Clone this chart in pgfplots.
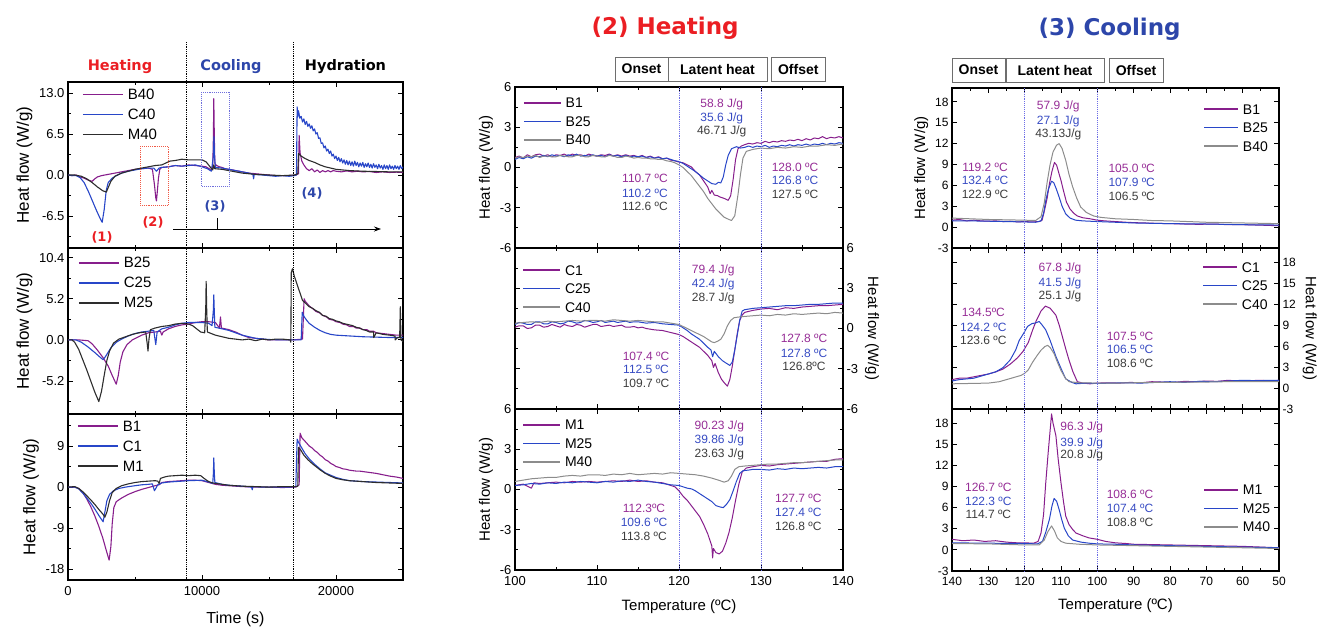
\documentclass[border=0pt]{standalone}
\usepackage{pgfplots}
\pgfplotsset{compat=1.18}
\usepackage{fontspec}
\setmainfont{Liberation Sans}
\newfontfamily\vfont{DejaVu Sans}
\usetikzlibrary{arrows.meta}
\definecolor{cpur}{RGB}{135,30,140}
\definecolor{cblu}{RGB}{40,70,200}
\definecolor{cdrk}{RGB}{45,45,45}
\definecolor{cgry}{RGB}{140,140,140}
\definecolor{tpur}{RGB}{150,45,150}
\definecolor{tblu}{RGB}{55,75,195}
\definecolor{tdrk}{RGB}{60,60,60}
\definecolor{tred}{RGB}{235,30,35}
\definecolor{tnavy}{RGB}{45,70,170}
\definecolor{dotblue}{RGB}{110,110,230}
\pgfplotsset{
  base/.style={scale only axis, axis line style={line width=1.2pt}, tick style={line width=0.9pt, black},
    major tick length=5pt, minor tick length=3pt, tick align=inside,
    every axis plot/.append style={line width=1.1pt, line join=round},
    legend cell align=left, scaled ticks=false,
    xticklabel style={yshift=-3pt},
    legend style={draw=none, fill=none, inner sep=0pt, outer sep=0pt, anchor=north west,
      nodes={inner sep=0pt, text height=10pt, text depth=0pt},
      /tikz/every odd column/.append style={column sep=4pt}}},
  lp/.style={base, width=335pt, height=166pt, xmin=0, xmax=25000, xtick={0,10000,20000}, minor xtick={5000,15000},
    tick label style={font=\fontsize{13}{14}\selectfont}, ylabel={Heat flow (W/g)},
    ylabel style={font=\fontsize{17}{18}\selectfont},
    legend style={font=\fontsize{15}{16}\selectfont, row sep=10pt}},
  hp/.style={base, width=328pt, height=161pt, xmin=100, xmax=140, ymin=-6, ymax=6, xtick={100,110,120,130,140},
    minor xtick={105,115,125,135}, ytick={-6,-3,0,3,6}, yticklabels={-6,-3,0,3,6}, minor ytick={-4.5,-1.5,1.5,4.5},
    tick label style={font=\fontsize{13}{14}\selectfont},
    every axis plot/.append style={line width=1pt},
    ylabel style={font=\fontsize{15}{16}\selectfont},
    legend style={font=\fontsize{14}{15}\selectfont, row sep=8.5pt}},
  cp/.style={base, width=327pt, xmin=50, xmax=140, x dir=reverse, ymin=-3, ymax=20, xtick={50,60,...,140},
    minor xtick={55,65,...,135}, ytick={-3,0,3,6,9,12,15,18}, yticklabels={-3,0,3,6,9,12,15,18},
    tick label style={font=\fontsize{12}{13}\selectfont},
    every axis plot/.append style={line width=1pt},
    ylabel style={font=\fontsize{15}{16}\selectfont},
    legend style={font=\fontsize{14}{15}\selectfont, row sep=8.5pt}},
}
\begin{document}
\begin{tikzpicture}
%================ LEFT PANEL =================
\begin{axis}[lp, at={(68pt,-82pt)}, anchor=north west, ymin=-11.57, ymax=14.74, xticklabels={},
  ytick={-6.5,0,6.5,13}, yticklabels={-6.5,0.0,6.5,13.0}, minor ytick={-9.75,-3.25,3.25,9.75},
  legend style={at={(axis description cs:0.042,0.955)}},
  legend image code/.code={\draw[#1,line width=1.8pt] (0pt,0pt)--(40pt,0pt);}]
\addplot[cpur] coordinates {(0,0)(300,-0.1)(600,0)(900,-0.3)(1200,-0.5)(1500,-0.8)(1800,-1.0)(2000,-0.6)(2200,-0.3)(2500,-0.1)(3000,0.1)(3500,0.3)(4000,0.5)(4500,0.7)(5000,0.9)(5500,1.0)(6000,1.1)(6300,0.9)(6450,-1.5)(6550,-3.6)(6600,-4.1)(6650,-3.0)(6750,-0.5)(6850,0.9)(7000,1.2)(7500,1.3)(8000,1.5)(8500,1.4)(9000,1.6)(9500,1.5)(10000,1.4)(10300,1.3)(10600,0.9)(10800,1.0)(10850,6)(10880,12.1)(10920,6)(10960,1.8)(11100,1.5)(11300,1.3)(11500,1.2)(11700,1.0)(12000,0.9)(12300,0.8)(12500,0.7)(12800,0.6)(13000,0.5)(13500,0.3)(14000,0.2)(14500,0.1)(15000,0)(15500,-0.1)(16000,-0.1)(16500,-0.1)(17000,0)(17200,0.2)(17250,6.3)(17320,3.5)(17450,2.2)(17600,1.6)(17800,1.0)(18000,0.7)(18200,1.0)(18400,0.5)(18600,0.8)(18800,0.4)(19000,0.7)(19200,0.5)(19400,0.7)(19600,0.5)(19800,0.7)(20000,0.6)(20400,0.5)(20800,0.65)(21200,0.5)(21600,0.6)(22000,0.5)(22500,0.55)(23000,0.4)(23500,0.5)(24000,0.4)(24500,0.45)(25000,0.4)};
\addlegendentry{B40}
\addplot[cblu] coordinates {(0,0)(300,-0.1)(600,-0.1)(900,-0.4)(1200,-1.2)(1500,-2.5)(1800,-4.0)(2100,-5.5)(2400,-6.9)(2550,-7.5)(2700,-5.5)(2850,-2.5)(3000,-1.2)(3300,-0.5)(3600,-0.1)(4000,0.3)(4500,0.6)(5000,0.8)(5500,1.0)(6000,1.1)(6400,1.1)(6600,0.6)(6800,1.1)(7000,1.2)(7500,1.3)(8000,1.5)(8500,1.4)(9000,1.5)(9500,1.6)(10000,1.3)(10400,1.0)(10700,0.6)(10850,3)(10890,6.1)(10930,3)(11000,1.2)(11500,1.1)(12000,0.9)(12500,0.7)(13000,0.5)(13500,0.3)(13800,0.1)(13850,-0.6)(13900,0.1)(14500,0.0)(15000,-0.1)(15500,-0.2)(16000,-0.1)(16500,-0.2)(16900,-0.1)(17050,0.0)(17100,10.8)(17150,9.2)(17200,10.2)(17300,9.0)(17400,9.3)(17500,8.4)(17600,8.9)(17700,8.0)(17800,8.5)(17900,7.7)(18000,8.1)(18100,7.4)(18200,7.8)(18300,7.0)(18400,7.3)(18500,6.5)(18600,6.7)(18700,5.8)(18800,5.9)(18900,5.0)(19000,5.1)(19100,4.3)(19200,4.6)(19300,3.8)(19400,4.1)(19500,3.4)(19600,3.8)(19700,3.0)(19800,3.3)(19900,2.6)(20000,3.0)(20100,2.3)(20200,2.8)(20300,2.1)(20400,2.6)(20500,1.9)(20600,2.4)(20700,1.7)(20800,2.3)(20900,1.6)(21000,2.2)(21100,1.5)(21200,2.1)(21300,1.4)(21400,2.2)(21500,1.5)(21600,2.0)(21700,1.3)(21800,1.9)(21900,1.4)(22000,2.0)(22100,1.2)(22200,1.8)(22300,1.3)(22400,1.9)(22500,1.2)(22600,1.7)(22700,1.1)(22800,1.8)(22900,1.2)(23000,1.6)(23100,1.0)(23200,1.7)(23300,1.1)(23400,1.5)(23500,0.9)(23600,1.6)(23700,1.0)(23800,1.5)(23900,0.9)(24000,1.6)(24100,1.0)(24200,1.4)(24300,0.9)(24400,1.5)(24500,1.0)(24600,1.4)(24700,0.9)(24800,1.5)(24900,1.0)(25000,1.3)};
\addlegendentry{C40}
\addplot[cdrk] coordinates {(0,0)(500,0)(1000,-0.2)(1400,-0.6)(1800,-1.2)(2200,-1.9)(2600,-2.5)(2860,-2.7)(3000,-2.0)(3200,-1.0)(3500,-0.2)(4000,0.3)(4500,0.6)(5000,0.9)(5500,1.1)(6000,1.3)(6500,1.5)(7000,1.6)(7300,1.9)(7600,2.2)(8000,2.3)(8500,2.5)(9000,2.4)(9500,2.4)(10000,2.4)(10300,2.1)(10600,1.3)(10800,0.8)(10880,1.6)(10950,1.0)(11500,0.9)(12000,0.7)(12500,0.5)(13000,0.3)(14000,0.1)(15000,0.0)(16000,-0.1)(16900,0)(17150,0.2)(17200,3.4)(17400,3.0)(17700,2.6)(18000,2.3)(18400,2.0)(18800,1.6)(19200,1.3)(19600,1.1)(20000,0.9)(21000,0.7)(22000,0.6)(23000,0.55)(24000,0.5)(25000,0.5)};
\addlegendentry{M40}
\end{axis}
\begin{axis}[lp, at={(68pt,-248pt)}, anchor=north west, ymin=-9.37, ymax=11.62, xticklabels={},
  ytick={-5.2,0,5.2,10.4}, yticklabels={-5.2,0.0,5.2,10.4}, minor ytick={-7.8,-2.6,2.6,7.8},
  legend style={at={(axis description cs:0.03,0.941)}},
  legend image code/.code={\draw[#1,line width=1.8pt] (0pt,0pt)--(40pt,0pt);}]
\addplot[cpur] coordinates {(0,0)(800,0)(1500,-0.1)(1800,-0.5)(2200,-1.3)(2600,-2.2)(3000,-3.3)(3300,-4.5)(3600,-5.6)(3750,-4.5)(3900,-2.8)(4100,-1.5)(4400,-0.6)(4800,0)(5500,0.6)(6000,0.9)(6500,1.0)(6900,1.1)(7000,0.6)(7100,1.0)(7500,1.4)(8000,1.7)(8500,1.9)(9000,2.0)(9500,2.2)(10000,2.3)(10500,2.3)(11000,2.2)(11300,1.5)(11380,2.9)(11450,1.5)(12000,1.3)(12500,1.0)(13000,0.6)(13500,0.3)(14000,0.2)(15000,0.0)(16000,0.0)(16800,0.0)(17500,0.1)(17620,5.2)(17700,4.9)(18000,4.3)(18300,3.9)(18500,3.6)(18800,3.4)(19000,3.1)(19300,2.9)(19500,2.6)(19800,2.5)(20000,2.3)(20300,2.2)(20500,2.0)(20800,1.9)(21000,1.7)(21300,1.7)(21500,1.5)(21800,1.5)(22000,1.3)(22300,1.3)(22500,1.1)(22800,1.1)(23000,0.9)(23500,0.8)(24000,0.7)(24500,0.6)(25000,0.6)};
\addlegendentry{B25}
\addplot[cblu] coordinates {(0,0)(600,0)(1000,-0.3)(1500,-0.9)(2000,-1.6)(2400,-2.2)(2620,-2.5)(2800,-2.1)(3200,-1.0)(3600,-0.3)(4000,0.1)(4500,0.5)(5000,0.8)(5500,1.0)(6000,1.1)(6400,1.2)(6550,-0.6)(6650,1.0)(7000,1.4)(7500,1.6)(8000,1.9)(8500,2.1)(9000,2.2)(9500,2.2)(10000,2.2)(10500,2.1)(10750,1.8)(10850,3.8)(10880,5.7)(10920,3.5)(10960,1.6)(11500,1.4)(12000,1.2)(12500,0.9)(13000,0.6)(13500,0.4)(14000,0.2)(15000,0.05)(16000,0.0)(17000,0.0)(17400,0.0)(17480,3.5)(17600,3.0)(17800,2.5)(18000,2.1)(18400,1.6)(18800,1.2)(19200,0.9)(19600,0.7)(20000,0.6)(21000,0.5)(22000,0.4)(23000,0.35)(24000,0.3)(25000,0.3)};
\addlegendentry{C25}
\addplot[cdrk] coordinates {(0,0)(300,0)(500,-0.3)(800,-1.2)(1100,-2.5)(1400,-3.8)(1700,-5.2)(2000,-6.6)(2300,-7.8)(2500,-6.5)(2700,-4.5)(2900,-2.6)(3100,-1.4)(3400,-0.4)(3800,0.1)(4300,0.4)(4800,0.7)(5300,0.9)(5800,1.0)(5920,-0.6)(5970,-1.4)(6050,0.2)(6150,1.3)(6500,1.5)(7000,1.7)(7500,1.8)(8000,2.0)(8500,2.1)(9000,2.0)(9300,1.8)(9600,1.4)(9900,1.0)(10200,0.9)(10280,4)(10310,7.4)(10350,4)(10400,1.0)(11000,0.6)(11500,0.4)(12000,0.2)(12500,0.1)(13000,0.0)(13500,0.1)(14000,-0.1)(14500,0.1)(15000,0)(15500,0.1)(16000,0.1)(16580,0.0)(16630,-0.3)(16660,8.5)(16750,9.0)(16900,8.0)(17100,7.0)(17300,6.0)(17500,5.0)(17750,4.6)(18000,4.2)(18250,4.0)(18500,3.7)(18750,3.5)(19000,3.1)(19250,3.0)(19500,2.7)(19750,2.6)(20000,2.4)(20250,2.3)(20500,2.1)(20750,2.0)(21000,1.9)(21250,1.8)(21500,1.6)(21750,1.5)(22000,1.3)(22250,1.2)(22500,1.0)(22800,1.0)(22820,0.3)(23000,0.9)(23500,0.7)(24000,0.6)(24400,0.5)(24420,0.0)(24600,0.3)(24750,0.3)(24800,4.2)(24850,0.0)(25000,-0.2)};
\addlegendentry{M25}
\end{axis}
\begin{axis}[lp, at={(68pt,-414pt)}, anchor=north west, ymin=-20.35, ymax=16.0,
  xticklabels={0,10000,20000}, xlabel={Time (s)}, xlabel style={font=\fontsize{16}{17}\selectfont, yshift=-9pt},
  ytick={-18,-9,0,9}, yticklabels={-18,-9,0,9}, minor ytick={-13.5,-4.5,4.5,13.5},
  legend style={at={(axis description cs:0.027,0.957)}},
  legend image code/.code={\draw[#1,line width=1.8pt] (0pt,0pt)--(40pt,0pt);}]
\addplot[cpur] coordinates {(0,0)(500,0)(800,-0.3)(1100,-1.2)(1400,-2.6)(1700,-4.3)(2000,-6.3)(2300,-8.6)(2600,-11.2)(2850,-13.8)(3070,-16.0)(3200,-13)(3300,-8)(3420,-4.5)(3600,-3.2)(4000,-2.4)(4500,-1.6)(5000,-1.0)(5500,-0.5)(6000,-0.1)(6500,0.3)(6800,0.5)(7000,1.0)(7500,1.2)(8000,1.3)(8500,1.4)(9000,1.5)(9500,1.5)(10000,1.4)(10500,1.0)(11000,0.6)(11500,0.4)(12000,0.3)(13000,0.1)(14000,0.0)(15000,0.0)(16000,-0.1)(17000,0)(17250,0.5)(17320,11.8)(17450,10.8)(17700,10.0)(18000,9.0)(18200,8.6)(18400,8.0)(18600,7.6)(18800,7.0)(19000,6.6)(19200,6.0)(19400,5.7)(19600,5.2)(19800,4.9)(20000,4.5)(20250,4.3)(20500,4.0)(20750,3.9)(21000,3.7)(21250,3.6)(21500,3.5)(21750,3.5)(22000,3.4)(22250,3.3)(22500,3.2)(22750,3.1)(23000,3.0)(23500,2.7)(24000,2.4)(24500,2.2)(25000,1.9)};
\addlegendentry{B1}
\addplot[cblu] coordinates {(0,0)(500,0)(800,-0.4)(1100,-1.3)(1400,-2.4)(1700,-3.5)(2000,-4.8)(2300,-6.2)(2620,-7.6)(2750,-5.5)(2900,-3.0)(3100,-1.6)(3400,-0.8)(3800,-0.3)(4300,0.0)(5000,0.3)(5500,0.5)(6000,0.6)(6300,0.7)(6450,-0.8)(6550,-0.3)(6700,0.5)(7000,0.9)(7500,1.1)(8000,1.2)(9000,1.4)(10000,1.5)(10500,1.1)(10800,0.8)(10850,3)(10880,6.4)(10920,3)(10960,1.0)(11500,0.6)(12000,0.4)(13000,0.2)(13700,0.0)(13750,-0.6)(13800,0.1)(14500,0.0)(15500,0.0)(16500,0.0)(17000,0.1)(17100,10.5)(17200,9.8)(17400,8.8)(17700,7.3)(18000,6.2)(18400,5.0)(18800,4.0)(19200,3.1)(19600,2.6)(20000,2.1)(20500,1.7)(21000,1.4)(21500,1.3)(22000,1.2)(23000,1.1)(24000,1.0)(25000,0.9)};
\addlegendentry{C1}
\addplot[cdrk] coordinates {(0,0)(500,0.1)(800,-0.3)(1100,-1.0)(1400,-1.9)(1700,-2.8)(2000,-3.8)(2300,-4.9)(2600,-5.9)(2750,-6.6)(2900,-5.5)(3100,-3.0)(3300,-1.2)(3600,-0.3)(4000,0.3)(4500,0.7)(5000,1.0)(5500,1.2)(6000,1.3)(6500,1.4)(6700,1.3)(6800,0.8)(6900,1.9)(7200,2.2)(7500,2.4)(8000,2.5)(8500,2.6)(9000,2.5)(9500,2.6)(9900,2.5)(10200,1.8)(10500,1.2)(10800,0.9)(11000,0.8)(11500,0.6)(12000,0.4)(13000,0.2)(14000,0.1)(15000,0.0)(16000,0.1)(17000,0.1)(17150,0.2)(17200,8.7)(17350,8.2)(17600,7.0)(17900,6.0)(18200,5.2)(18500,4.5)(18800,3.8)(19200,3.0)(19600,2.4)(20000,1.9)(20500,1.6)(21000,1.4)(21500,1.3)(22000,1.2)(23000,1.0)(24000,0.9)(25000,0.8)};
\addlegendentry{M1}
\end{axis}
%================ HEATING PANEL =================
\begin{axis}[hp, at={(515pt,-87pt)}, anchor=north west, xticklabels={}, ylabel={Heat flow (W/g)},
  legend style={at={(axis description cs:0.024,0.932)}},
  legend image code/.code={\draw[#1,line width=1.8pt] (0pt,0pt)--(37pt,0pt);}]
\addplot[cpur] coordinates {(100,0.75)(100.5,0.85)(101,0.7)(101.5,0.95)(102,0.8)(102.5,0.95)(103,1.0)(103.5,0.85)(104,0.95)(104.5,0.8)(105,0.95)(105.5,0.9)(106,1.0)(106.5,0.85)(107,1.0)(107.5,0.9)(108,0.95)(108.5,0.85)(109,1.0)(109.5,0.9)(110,0.85)(110.5,0.95)(111,0.9)(111.5,1.0)(112,0.85)(112.5,0.95)(113,0.85)(113.5,0.95)(114,0.85)(114.5,0.9)(115,0.8)(115.5,0.9)(116,0.75)(116.5,0.85)(117,0.7)(117.5,0.8)(118,0.65)(118.5,0.7)(119,0.55)(119.5,0.5)(120,0.4)(120.5,0.35)(121,0.2)(121.5,0.05)(122,-0.3)(122.5,-0.55)(123,-1.0)(123.5,-1.45)(123.8,-1.95)(124,-1.7)(124.3,-2.05)(124.7,-2.1)(125,-2.2)(125.5,-2.3)(126,-2.45)(126.3,-2.1)(126.6,-0.9)(126.9,0.6)(127.2,1.4)(127.6,1.6)(128,1.7)(128.5,1.8)(129,1.75)(129.5,1.85)(130,1.8)(130.5,1.95)(131,1.85)(131.5,1.95)(132,1.9)(132.5,2.0)(133,1.95)(133.5,2.05)(134,2.0)(134.5,2.1)(135,2.0)(135.5,2.15)(136,2.05)(136.5,2.2)(137,2.15)(137.5,2.3)(138,2.15)(138.5,2.25)(139,2.2)(139.5,2.3)(140,2.2)};
\addlegendentry{B1}
\addplot[cblu] coordinates {(100,0.6)(100.5,0.75)(101,0.65)(101.5,0.8)(102,0.7)(102.5,0.85)(103,0.8)(103.5,0.9)(104,0.8)(104.5,0.95)(105,0.85)(105.5,0.9)(106,0.8)(106.5,0.95)(107,0.85)(107.5,1.0)(108,0.85)(108.5,0.9)(109,0.85)(109.5,0.95)(110,0.85)(110.5,0.9)(111,0.8)(111.5,0.95)(112,0.85)(112.5,0.9)(113,0.8)(113.5,0.9)(114,0.8)(114.5,0.85)(115,0.8)(115.5,0.85)(116,0.75)(116.5,0.8)(117,0.7)(117.5,0.75)(118,0.65)(118.5,0.7)(119,0.6)(119.5,0.5)(120,0.45)(120.5,0.3)(121,0.1)(121.5,-0.1)(122,-0.3)(122.5,-0.55)(123,-0.8)(123.5,-1.0)(124,-1.2)(124.5,-1.25)(124.8,-1.1)(125.1,-1.15)(125.4,-0.7)(125.7,0.2)(126,0.9)(126.4,1.4)(127,1.55)(127.5,1.45)(128,1.5)(128.5,1.6)(129,1.5)(129.5,1.6)(130,1.55)(130.5,1.65)(131,1.5)(131.5,1.6)(132,1.55)(132.5,1.65)(133,1.6)(133.5,1.7)(134,1.6)(134.5,1.7)(135,1.65)(135.5,1.75)(136,1.65)(136.5,1.75)(137,1.7)(137.5,1.8)(138,1.7)(138.5,1.8)(139,1.75)(139.5,1.85)(140,1.8)};
\addlegendentry{B25}
\addplot[cgry] coordinates {(100,0.7)(100.5,0.8)(101,0.75)(101.5,0.85)(102,0.8)(102.5,0.9)(103,0.75)(103.5,0.85)(104,0.85)(104.5,0.8)(105,0.8)(105.5,0.9)(106,0.85)(106.5,0.8)(107,0.8)(107.5,0.9)(108,0.9)(108.5,0.8)(109,0.8)(109.5,0.9)(110,0.85)(110.5,0.8)(111,0.8)(111.5,0.9)(112,0.85)(112.5,0.75)(113,0.75)(113.5,0.85)(114,0.8)(114.5,0.7)(115,0.75)(115.5,0.7)(116,0.7)(116.5,0.65)(117,0.65)(117.5,0.6)(118,0.6)(118.5,0.5)(119,0.45)(119.5,0.35)(120,0.2)(120.5,0.0)(121,-0.3)(121.5,-0.6)(122,-1.0)(122.5,-1.4)(123,-1.8)(123.5,-2.3)(124,-2.7)(124.5,-3.1)(125,-3.4)(125.5,-3.7)(126,-3.85)(126.4,-3.95)(126.8,-3.6)(127.2,-2.0)(127.5,-0.5)(127.8,0.7)(128.2,1.2)(129,1.35)(130,1.45)(131,1.4)(132,1.5)(133,1.45)(134,1.55)(135,1.5)(136,1.6)(137,1.6)(138,1.7)(139,1.65)(140,1.75)};
\addlegendentry{B40}
\end{axis}
\begin{axis}[hp, at={(515pt,-248pt)}, anchor=north west, xticklabels={}, yticklabel pos=right,
  ylabel={Heat flow (W/g)}, ylabel style={rotate=180},
  legend style={at={(axis description cs:0.022,0.894)}},
  legend image code/.code={\draw[#1,line width=1.8pt] (0pt,0pt)--(37pt,0pt);}]
\addplot[cpur] coordinates {(100,0.1)(100.5,0.2)(101,0.2)(101.5,0.0)(102,0.05)(102.5,0.25)(103,0.25)(103.5,0.1)(104,0.15)(104.5,0.3)(105,0.2)(105.5,0.1)(106,0.3)(106.5,0.2)(107,0.15)(107.5,0.3)(108,0.25)(108.5,0.1)(109,0.2)(109.5,0.3)(110,0.3)(110.5,0.15)(111,0.2)(111.5,0.25)(112,0.15)(112.5,0.2)(113,0.25)(113.5,0.1)(114,0.1)(114.5,0.15)(115,0.05)(115.5,0.1)(116,0.0)(117,-0.1)(118,-0.15)(119,-0.3)(120,-0.45)(120.5,-0.6)(121,-0.8)(121.5,-1.0)(122,-1.2)(122.5,-1.4)(123,-1.7)(123.5,-2.0)(124,-2.4)(124.2,-2.9)(124.4,-2.6)(124.8,-3.3)(125.2,-3.8)(125.6,-4.1)(125.9,-4.3)(126.2,-3.8)(126.5,-2.8)(126.8,-1.6)(127.1,-0.4)(127.4,0.6)(127.7,1.0)(128,1.2)(129,1.35)(130,1.45)(131,1.5)(132,1.4)(133,1.55)(134,1.5)(135,1.6)(136,1.65)(137,1.7)(138,1.7)(139,1.75)(140,1.8)};
\addlegendentry{C1}
\addplot[cblu] coordinates {(100,0.3)(100.5,0.45)(101,0.4)(101.5,0.3)(102,0.3)(102.5,0.5)(103,0.5)(103.5,0.35)(104,0.35)(104.5,0.5)(105,0.45)(105.5,0.35)(106,0.4)(106.5,0.55)(107,0.5)(107.5,0.4)(108,0.45)(108.5,0.6)(109,0.55)(109.5,0.45)(110,0.5)(110.5,0.6)(111,0.45)(111.5,0.5)(112,0.55)(112.5,0.45)(113,0.5)(113.5,0.55)(114,0.45)(114.5,0.5)(115,0.5)(116,0.4)(117,0.45)(118,0.35)(119,0.3)(120,0.25)(120.5,0.05)(121,-0.15)(121.5,-0.4)(122,-0.6)(122.5,-0.8)(123,-1.1)(123.5,-1.4)(123.9,-1.6)(124.1,-2.1)(124.3,-1.7)(124.8,-2.1)(125.3,-2.4)(125.8,-2.6)(126.2,-2.75)(126.5,-2.5)(126.8,-1.6)(127.1,-0.5)(127.4,0.6)(127.7,1.3)(128,1.4)(129,1.5)(130,1.55)(131,1.6)(132,1.65)(133,1.7)(134,1.7)(135,1.75)(136,1.8)(137,1.8)(138,1.85)(139,1.9)(140,1.9)};
\addlegendentry{C25}
\addplot[cgry] coordinates {(100,0.4)(101,0.45)(102,0.5)(103,0.45)(104,0.55)(105,0.5)(106,0.55)(107,0.6)(108,0.55)(109,0.6)(110,0.6)(111,0.55)(112,0.65)(113,0.6)(114,0.55)(115,0.6)(116,0.55)(117,0.5)(118,0.5)(119,0.4)(120,0.3)(120.5,0.15)(121,0.0)(121.5,-0.15)(122,-0.3)(122.5,-0.45)(123,-0.6)(123.5,-0.8)(124,-1.0)(124.3,-1.05)(124.7,-0.95)(125.1,-0.8)(125.5,-0.4)(125.9,0.2)(126.3,0.6)(126.7,0.8)(127.2,0.85)(128,0.9)(129,0.95)(130,1.0)(131,0.95)(132,1.05)(133,1.0)(134,1.1)(135,1.05)(136,1.1)(137,1.15)(138,1.1)(139,1.2)(140,1.15)};
\addlegendentry{C40}
\end{axis}
\begin{axis}[hp, at={(515pt,-409pt)}, anchor=north west, xticklabels={100,110,120,130,140},
  xlabel={Temperature (ºC)}, xlabel style={font=\fontsize{15}{16}\selectfont, yshift=-7pt}, ylabel={Heat flow (W/g)},
  legend style={at={(axis description cs:0.022,0.932)}},
  legend image code/.code={\draw[#1,line width=1.8pt] (0pt,0pt)--(37pt,0pt);}]
\addplot[cpur] coordinates {(100,0.3)(101,0.4)(102,0.1)(102.3,0.5)(103,0.45)(104,0.5)(105,0.55)(106,0.5)(107,0.6)(108,0.55)(109,0.6)(110,0.55)(111,0.6)(112,0.65)(113,0.6)(114,0.7)(115,0.6)(116,0.65)(117,0.55)(118,0.5)(119,0.3)(119.5,0.2)(120,-0.1)(120.5,-0.5)(121,-0.8)(121.5,-1.2)(122,-1.6)(122.5,-2.0)(123,-2.6)(123.5,-3.3)(124,-4.2)(124.1,-5.1)(124.2,-4.4)(124.5,-4.7)(124.9,-4.8)(125.3,-4.6)(125.7,-4.0)(126.1,-3.2)(126.5,-2.1)(126.9,-0.8)(127.3,0.4)(127.7,1.3)(128.2,1.6)(129,1.7)(130,1.8)(131,1.75)(132,1.85)(133,1.9)(134,1.95)(135,2.0)(136,2.05)(137,2.1)(138,2.1)(139,2.25)(140,2.3)};
\addlegendentry{M1}
\addplot[cblu] coordinates {(100,0.3)(101,0.35)(102,0.45)(103,0.4)(104,0.5)(105,0.45)(106,0.55)(107,0.5)(108,0.6)(109,0.55)(110,0.5)(111,0.6)(112,0.55)(113,0.65)(114,0.6)(115,0.7)(116,0.6)(117,0.55)(118,0.45)(119,0.35)(120,0.3)(120.5,0.2)(121,0.1)(121.5,0.05)(122,-0.1)(122.5,-0.3)(123,-0.5)(123.5,-0.7)(124,-0.9)(124.5,-1.2)(125,-1.3)(125.4,-1.35)(125.8,-1.1)(126.2,-0.75)(126.6,-0.1)(127,0.6)(127.4,1.2)(127.8,1.4)(128.5,1.45)(129,1.5)(130,1.5)(131,1.45)(132,1.55)(133,1.5)(134,1.6)(135,1.55)(136,1.6)(137,1.65)(138,1.6)(139,1.7)(140,1.7)};
\addlegendentry{M25}
\addplot[cgry] coordinates {(100,0.6)(101,0.7)(102,0.8)(103,0.85)(104,0.9)(105,0.9)(106,1.0)(107,1.05)(108,1.0)(109,1.1)(110,1.1)(111,1.05)(112,1.15)(113,1.1)(114,1.2)(115,1.1)(116,1.15)(117,1.2)(118,1.15)(119,1.25)(120,1.2)(121,1.15)(122,1.1)(123,1.0)(124,0.85)(124.8,0.7)(125.5,0.55)(126,0.65)(126.4,1.0)(126.8,1.5)(127.3,1.7)(128,1.75)(129,1.8)(130,1.85)(131,1.9)(132,1.9)(133,1.95)(134,2.0)(135,2.0)(136,2.05)(137,2.1)(138,2.15)(139,2.2)(140,2.2)};
\addlegendentry{M40}
\end{axis}
%================ COOLING PANEL =================
\begin{axis}[cp, at={(952pt,-88pt)}, anchor=north west, height=160pt, xticklabels={}, ylabel={Heat flow (W/g)},
  legend style={at={(axis description cs:0.768,0.9)}},
  legend image code/.code={\draw[#1,line width=1.8pt] (0pt,0pt)--(34pt,0pt);}]
\addplot[cpur] coordinates {(140,1.0)(138,1.1)(136,0.9)(134,1.0)(132,0.9)(130,0.85)(128,0.9)(126,0.8)(124,0.85)(122,0.75)(120,0.8)(118,0.75)(116,0.8)(115.2,1.0)(114.5,2.5)(113.8,4.2)(113.2,6.2)(112.5,8.0)(111.8,9.3)(111.2,8.9)(110.5,7.6)(110,6.7)(109.3,5.2)(108.5,3.6)(107.5,2.6)(106.5,2.0)(105.5,1.6)(104,1.35)(102,1.2)(100,1.0)(98,0.9)(95,0.8)(92,0.7)(90,0.65)(87,0.6)(84,0.55)(80,0.5)(76,0.45)(72,0.4)(68,0.45)(64,0.35)(60,0.35)(56,0.3)(53,0.25)(50,0.2)};
\addlegendentry{B1}
\addplot[cblu] coordinates {(140,0.9)(135,0.9)(130,0.85)(125,0.8)(120,0.75)(117,0.7)(115.5,0.9)(114.8,2.0)(114.2,3.8)(113.5,5.4)(112.6,6.6)(112.0,6.4)(111.3,5.5)(110.5,4.3)(109.7,3.0)(108.7,1.9)(107.5,1.3)(106,1.0)(104,0.9)(100,0.8)(95,0.7)(90,0.6)(80,0.5)(70,0.45)(60,0.35)(50,0.3)};
\addlegendentry{B25}
\addplot[cgry] coordinates {(140,1.3)(135,1.2)(130,1.1)(125,1.05)(120,1.0)(117,0.95)(115.5,1.5)(114.6,3.5)(113.8,6.5)(113,9.0)(112.2,10.8)(111.2,11.8)(110.5,12.0)(109.7,11.3)(108.7,9.6)(107.8,7.6)(106.8,5.8)(105.7,4.2)(104.6,2.9)(103,2.1)(101,1.6)(99,1.4)(95,1.2)(90,1.1)(85,0.95)(80,0.9)(75,0.8)(70,0.7)(65,0.65)(60,0.6)(55,0.55)(50,0.5)};
\addlegendentry{B40}
\end{axis}
\begin{axis}[cp, at={(952pt,-248pt)}, anchor=north west, height=161pt, xticklabels={}, yticklabel pos=right,
  ylabel={Heat flow (W/g)}, ylabel style={rotate=180},
  legend style={at={(axis description cs:0.765,0.913)}},
  legend image code/.code={\draw[#1,line width=1.8pt] (0pt,0pt)--(34pt,0pt);}]
\addplot[cpur] coordinates {(140,1.2)(138,1.4)(136,1.4)(134,1.6)(132,1.8)(130,2.0)(128,2.3)(126,2.7)(124,3.4)(122,4.3)(120.5,5.2)(119,6.5)(117.8,8.3)(116.9,9.5)(115.5,11.0)(114.3,11.7)(113,11.4)(111.4,10.4)(110.5,9.0)(109.6,7.3)(108.7,5.6)(107.8,4.0)(106.7,2.3)(105.5,0.9)(104,0.7)(102,0.6)(100,0.7)(97,0.75)(94,0.7)(91,0.8)(88,0.75)(85,0.9)(82,0.85)(79,0.8)(76,0.95)(73,0.9)(70,1.0)(67,0.95)(64,1.1)(61,1.0)(58,1.05)(55,1.1)(52,1.0)(50,1.1)};
\addlegendentry{C1}
\addplot[cblu] coordinates {(140,1.0)(138,1.2)(136,1.3)(134,1.4)(132,1.7)(130,2.0)(128,2.3)(126,2.9)(124,4.0)(122.5,5.4)(121.5,6.8)(120.3,7.8)(119.2,8.8)(118,9.2)(117,9.3)(116,9.5)(115.2,9.0)(114.2,8.3)(113,6.8)(111.4,4.5)(110,2.8)(108.7,1.3)(107,0.8)(105.9,0.6)(103,0.7)(100,0.65)(96,0.7)(92,0.75)(88,0.7)(84,0.8)(80,0.9)(76,0.8)(72,0.95)(68,0.9)(64,1.0)(60,1.1)(56,1.05)(52,1.1)(50,1.1)};
\addlegendentry{C25}
\addplot[cgry] coordinates {(140,0.6)(135,0.65)(130,0.7)(127,0.9)(125,1.2)(123,1.5)(121,1.8)(120,2.1)(119,2.6)(117.8,3.7)(116.5,4.7)(115.5,5.4)(114.5,5.9)(113.7,6.1)(113,5.8)(111.9,4.9)(111,3.7)(110,2.5)(108.8,1.4)(107.8,0.9)(105,0.75)(100,0.7)(95,0.7)(90,0.75)(85,0.8)(80,0.8)(75,0.85)(70,0.85)(65,0.9)(60,0.9)(55,0.9)(50,0.9)};
\addlegendentry{C40}
\end{axis}
\begin{axis}[cp, at={(952pt,-409pt)}, anchor=north west, height=162pt, xticklabels={50,60,70,80,90,100,110,120,130,140},
  xlabel={Temperature (ºC)}, xlabel style={font=\fontsize{15}{16}\selectfont, yshift=-6pt},
  legend style={at={(axis description cs:0.768,0.531)}},
  legend image code/.code={\draw[#1,line width=1.8pt] (0pt,0pt)--(34pt,0pt);}]
\addplot[cpur] coordinates {(140,1.5)(137,1.3)(134,1.4)(131,1.2)(128,1.3)(125,1.1)(122,1.0)(120,1.0)(117.5,0.95)(116.3,1.2)(115.5,2.4)(114.8,5.0)(114.2,9.5)(113.5,14.0)(112.9,17.5)(112.6,19.3)(112.2,18.0)(111.4,16.2)(110.8,13.0)(110.0,9.5)(109.3,6.8)(108.7,4.8)(107.8,3.6)(106.8,2.9)(105.9,2.4)(104,2.0)(102.3,1.7)(100,1.5)(97.7,1.2)(95,1.0)(92,0.9)(90,0.8)(85,0.75)(80,0.7)(75,0.65)(70,0.6)(65,0.55)(60,0.5)(55,0.4)(50,0.3)};
\addlegendentry{M1}
\addplot[cblu] coordinates {(140,1.0)(130,0.95)(120,0.9)(116.5,0.85)(115.1,1.2)(114.2,2.5)(113.2,4.3)(112.5,6.2)(111.9,7.3)(111.2,6.9)(110.5,5.7)(109.8,4.3)(109.1,3.1)(108,2.0)(106.8,1.4)(104.5,1.1)(102.3,0.95)(100,0.85)(95,0.8)(90,0.7)(80,0.6)(70,0.5)(60,0.4)(50,0.3)};
\addlegendentry{M25}
\addplot[cgry] coordinates {(140,0.9)(130,0.85)(120,0.7)(116,0.7)(114.6,1.4)(113.6,2.6)(112.6,3.4)(111.8,2.7)(111,1.7)(110,1.2)(108.7,0.95)(105,0.8)(100,0.7)(90,0.6)(80,0.5)(70,0.4)(60,0.3)(50,0.2)};
\addlegendentry{M40}
\end{axis}
%================ ANNOTATIONS =================
\begin{scope}[x=1pt,y=-1pt]
\draw[black, densely dotted, line width=0.8pt] (186,42) -- (186,580);
\draw[black, densely dotted, line width=0.8pt] (293,42) -- (293,580);
\node[font=\vfont\bfseries\fontsize{14.5}{16}\selectfont, text=tred, anchor=base] at (120,70) {Heating};
\node[font=\vfont\bfseries\fontsize{14.5}{16}\selectfont, text=tnavy, anchor=base] at (231,70) {Cooling};
\node[font=\vfont\bfseries\fontsize{14.5}{16}\selectfont, text=black, anchor=base] at (345.5,70) {Hydration};
\draw[color={rgb,255:red,240;green,90;blue,70}, densely dotted, line width=0.9pt] (140,146) rectangle (168,205);
\draw[color={rgb,255:red,110;green,110;blue,220}, densely dotted, line width=0.9pt] (201,92) rectangle (229,186);
\node[font=\vfont\bfseries\fontsize{13}{14}\selectfont, text=tred] at (102,237) {(1)};
\node[font=\vfont\bfseries\fontsize{13}{14}\selectfont, text=tred] at (153,222) {(2)};
\node[font=\vfont\bfseries\fontsize{13}{14}\selectfont, text=tnavy] at (215,206) {(3)};
\node[font=\vfont\bfseries\fontsize{13}{14}\selectfont, text=tnavy] at (312,193) {(4)};
\draw[-{Stealth[length=7pt,width=5pt]}, line width=0.7pt] (173,229) -- (381,229);
\draw[line width=0.7pt] (217,218) -- (217,229);
\node[anchor=base west, font=\vfont\bfseries\fontsize{23}{25}\selectfont, text=tred] at (588,34.3) {(2) Heating};
\node[anchor=base west, font=\vfont\bfseries\fontsize{23}{25}\selectfont, text=tnavy] at (1035,35.7) {(3) Cooling};
\begin{scope}[draw={rgb,255:red,110;green,110;blue,110}, line width=0.8pt]
\draw (615,57) rectangle (668,81); \draw (668,57) rectangle (767,81); \draw (771.5,57) rectangle (825,81);
\draw (952,58) rectangle (1005,82); \draw (1006,58) rectangle (1104,82); \draw (1109,58) rectangle (1163,82);
\end{scope}
\begin{scope}[every node/.style={font=\bfseries\fontsize{14}{15}\selectfont}]
\node at (641.5,69) {Onset}; \node at (717.5,69) {Latent heat}; \node at (798.3,69) {Offset};
\node at (978.5,70) {Onset}; \node at (1055,70) {Latent heat}; \node at (1136,70) {Offset};
\end{scope}
\draw[dotblue, densely dotted, line width=0.9pt] (679,87) -- (679,571);
\draw[dotblue, densely dotted, line width=0.9pt] (761,87) -- (761,571);
\draw[dotblue, densely dotted, line width=0.9pt] (1024.7,88) -- (1024.7,571);
\draw[dotblue, densely dotted, line width=0.9pt] (1097.3,88) -- (1097.3,571);
\begin{scope}[every node/.style={font=\fontsize{12}{13}\selectfont, anchor=base, inner sep=0pt}]
\node[text=tpur] at (721.7,107) {58.8 J/g}; \node[text=tblu] at (721.7,121) {35.6 J/g}; \node[text=tdrk] at (721.7,134.3) {46.71 J/g};
\node[text=tpur] at (645,182.6) {110.7 ºC}; \node[text=tblu] at (645,197.6) {110.2 ºC}; \node[text=tdrk] at (645,210) {112.6 ºC};
\node[text=tpur] at (795,171) {128.0 ºC}; \node[text=tblu] at (795,184.3) {126.8 ºC}; \node[text=tdrk] at (795,198.3) {127.5 ºC};
\node[text=tpur] at (713.3,273.6) {79.4 J/g}; \node[text=tblu] at (713.3,287) {42.4 J/g}; \node[text=tdrk] at (713.3,301) {28.7 J/g};
\node[text=tpur] at (646,360.3) {107.4 ºC}; \node[text=tblu] at (646,373.6) {112.5 ºC}; \node[text=tdrk] at (646,387.6) {109.7 ºC};
\node[text=tpur] at (804,342.6) {127.8 ºC}; \node[text=tblu] at (804,357) {127.8 ºC}; \node[text=tdrk] at (804,370.3) {126.8ºC};
\node[text=tpur] at (719.3,429.3) {90.23 J/g}; \node[text=tblu] at (719.3,443.6) {39.86 J/g}; \node[text=tdrk] at (719.3,457) {23.63 J/g};
\node[text=tpur] at (644,512.6) {112.3ºC}; \node[text=tblu] at (644,526.6) {109.6 ºC}; \node[text=tdrk] at (644,540) {113.8 ºC};
\node[text=tpur] at (798.3,502.6) {127.7 ºC}; \node[text=tblu] at (798.3,516.6) {127.4 ºC}; \node[text=tdrk] at (798.3,530) {126.8 ºC};
\node[text=tpur] at (1058.3,109.3) {57.9 J/g}; \node[text=tblu] at (1058.3,124.3) {27.1 J/g}; \node[text=tdrk] at (1058.3,137.6) {43.13J/g};
\node[text=tpur] at (985,171) {119.2 ºC}; \node[text=tblu] at (985,184.3) {132.4 ºC}; \node[text=tdrk] at (985,198.3) {122.9 ºC};
\node[text=tpur] at (1131.7,172.6) {105.0 ºC}; \node[text=tblu] at (1131.7,186) {107.9 ºC}; \node[text=tdrk] at (1131.7,200) {106.5 ºC};
\node[text=tpur] at (1060,271.6) {67.8 J/g}; \node[text=tblu] at (1060,286) {41.5 J/g}; \node[text=tdrk] at (1060,299.3) {25.1 J/g};
\node[text=tpur] at (983.3,316) {134.5ºC}; \node[text=tblu] at (983.3,331) {124.2 ºC}; \node[text=tdrk] at (983.3,344.3) {123.6 ºC};
\node[text=tpur] at (1130,340.3) {107.5 ºC}; \node[text=tblu] at (1130,353.6) {106.5 ºC}; \node[text=tdrk] at (1130,367) {108.6 ºC};
\node[text=tpur] at (1081.7,430.3) {96.3 J/g}; \node[text=tblu] at (1081.7,446) {39.9 J/g}; \node[text=tdrk] at (1081.7,458.6) {20.8 J/g};
\node[text=tpur] at (988.3,491.6) {126.7 ºC}; \node[text=tblu] at (988.3,505) {122.3 ºC}; \node[text=tdrk] at (988.3,518.6) {114.7 ºC};
\node[text=tpur] at (1130,498.3) {108.6 ºC}; \node[text=tblu] at (1130,512.6) {107.4 ºC}; \node[text=tdrk] at (1130,526) {108.8 ºC};
\end{scope}
\pgfresetboundingbox
\path[use as bounding box] (0,0) rectangle (1322,627);
\end{scope}
\end{tikzpicture}
\end{document}
